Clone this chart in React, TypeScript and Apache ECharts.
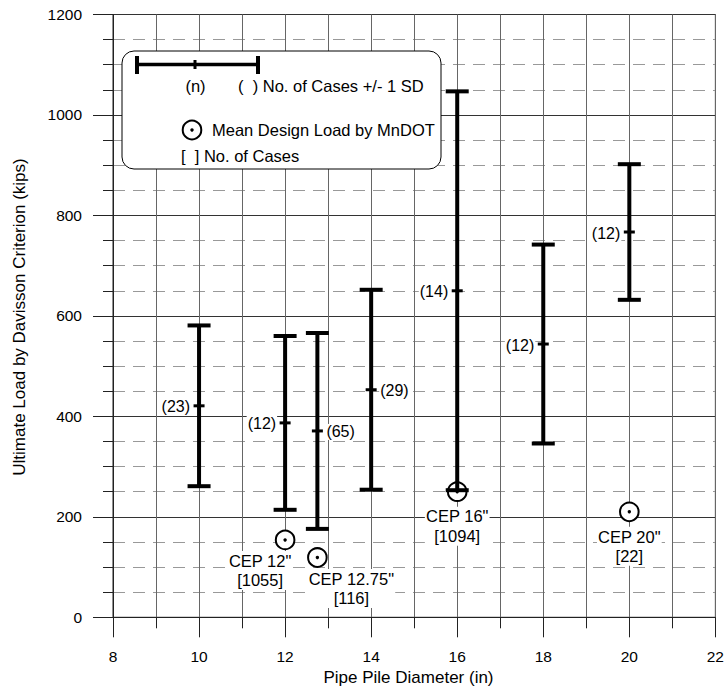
import { useEffect, useRef } from "react";
import * as echarts from "echarts";

// Pile load test summary: mean ultimate load (Davisson) with +/- 1 SD, by pipe diameter
const diameters = [10, 12, 12.75, 14, 16, 18, 20];
const meanLoads = [421, 387, 371, 453, 650, 544, 767];
const stdDevs = [160, 173, 195, 199, 397, 198, 135];
const caseCounts = [23, 12, 65, 29, 14, 12, 12];
const countLabelSide = ["left", "left", "right", "right", "left", "left", "left"];

// MnDOT mean design loads for closed-end pipe (CEP) piles
const cepNames = ['CEP 12"', 'CEP 12.75"', 'CEP 16"', 'CEP 20"'];
const cepDiameters = [12, 12.75, 16, 20];
const cepDesignLoads = [154, 119, 250, 210];
const cepCases = [1055, 116, 1094, 22];

const FONT = "'Liberation Sans', Arial, Helvetica, sans-serif";

// label placement for the design-load annotations (dx, dy from marker centre)
const cepLabelOffsets: [number, number][] = [
  [-25, 11],
  [34, 11.5],
  [0, 15],
  [0, 15],
];

const KEY_Z = 100;

function keyText(text: string, x: number, y: number, align: "left" | "center" = "left") {
  return {
    type: "text",
    x,
    y,
    z: KEY_Z + 2,
    style: { text, align, verticalAlign: "middle", fontSize: 16.5, fontFamily: FONT, fill: "#000" },
  };
}

function keyLine(x1: number, y1: number, x2: number, y2: number, w: number) {
  return {
    type: "line",
    z: KEY_Z + 1,
    shape: { x1, y1, x2, y2 },
    style: { stroke: "#000", lineWidth: w },
  };
}

export default function App() {
  const ref = useRef<HTMLDivElement>(null);

  useEffect(() => {
    if (!ref.current) return;
    const chart = echarts.init(ref.current, undefined, { renderer: "svg" });

    const errorData = diameters.map((d, i) => [d, meanLoads[i], stdDevs[i], caseCounts[i]]);
    const cepData = cepDiameters.map((d, i) => [d, cepDesignLoads[i], cepCases[i]]);

    const option: echarts.EChartsOption = {
      animation: false,
      backgroundColor: "#fff",
      grid: {
        left: 113,
        right: 11,
        top: 14.5,
        bottom: 69.7,
        show: true,
        borderColor: "#222",
        borderWidth: 1,
        backgroundColor: "transparent",
      },
      xAxis: {
        type: "value",
        min: 8,
        max: 22,
        interval: 2,
        axisLine: { show: true, lineStyle: { color: "#222", width: 1 } },
        axisTick: { show: true, length: 20, lineStyle: { color: "#222", width: 1 } },
        minorTick: { show: true, splitNumber: 2, length: 11, lineStyle: { color: "#222", width: 1 } },
        splitLine: { show: true, lineStyle: { color: "#666", width: 1 } },
        minorSplitLine: { show: true, lineStyle: { color: "#666", width: 1 } },
        axisLabel: { margin: 31, fontSize: 15.5, color: "#000", fontFamily: FONT },
      },
      yAxis: {
        type: "value",
        min: 0,
        max: 1200,
        interval: 200,
        axisLine: { show: true, lineStyle: { color: "#222", width: 1 } },
        axisTick: { show: true, length: 20, lineStyle: { color: "#222", width: 1 } },
        minorTick: { show: true, splitNumber: 4, length: 10, lineStyle: { color: "#222", width: 1 } },
        splitLine: { show: true, lineStyle: { color: "#333", width: 1 } },
        minorSplitLine: { show: true, lineStyle: { color: "#999", width: 1, type: [12, 8] } },
        axisLabel: {
          margin: 31,
          fontSize: 15.5,
          color: "#000",
          fontFamily: FONT,
          formatter: (v: number) => String(v),
        },
      },
      series: [
        {
          type: "custom",
          name: "design",
          z: 3,
          data: cepData,
          renderItem: (params: any, api: any) => {
            const i = params.dataIndex;
            const c = api.coord([api.value(0), api.value(1)]);
            const [dx, dy] = cepLabelOffsets[i];
            return {
              type: "group",
              children: [
                {
                  type: "text",
                  x: c[0] + dx,
                  y: c[1] + dy,
                  style: {
                    text: `${cepNames[i]}\n[${api.value(2)}]`,
                    align: "center",
                    verticalAlign: "top",
                    fontSize: 16.5,
                    lineHeight: 19.5,
                    fontFamily: FONT,
                    fill: "#000",
                    backgroundColor: "#fff",
                    padding: [0, 1],
                  },
                },
                {
                  type: "circle",
                  shape: { cx: c[0], cy: c[1], r: 9.3 },
                  style: { fill: "#fff", stroke: "#000", lineWidth: 2 },
                },
                {
                  type: "circle",
                  shape: { cx: c[0], cy: c[1], r: 1.7 },
                  style: { fill: "#000" },
                },
              ],
            };
          },
        },
        {
          type: "custom",
          name: "measured",
          z: 4,
          data: errorData,
          renderItem: (params: any, api: any) => {
            const i = params.dataIndex;
            const x = api.value(0);
            const m = api.value(1);
            const sd = api.value(2);
            const top = api.coord([x, m + sd]);
            const bot = api.coord([x, m - sd]);
            const mid = api.coord([x, m]);
            const cx = mid[0];
            const left = countLabelSide[i] === "left";
            const line = (x1: number, y1: number, x2: number, y2: number, w: number) => ({
              type: "line",
              shape: { x1, y1, x2, y2 },
              style: { stroke: "#000", lineWidth: w },
            });
            return {
              type: "group",
              children: [
                line(cx, top[1], cx, bot[1], 4),
                line(cx - 11.5, top[1], cx + 11.5, top[1], 4),
                line(cx - 11.5, bot[1], cx + 11.5, bot[1], 4),
                line(cx - 5.5, mid[1], cx + 5.5, mid[1], 3),
                {
                  type: "text",
                  x: left ? cx - 8 : cx + 8,
                  y: mid[1] + 1,
                  style: {
                    text: `(${api.value(3)})`,
                    align: left ? "right" : "left",
                    verticalAlign: "middle",
                    fontSize: 16,
                    fontFamily: FONT,
                    fill: "#000",
                    backgroundColor: "#fff",
                    padding: [0, 1],
                  },
                },
              ],
            };
          },
        },
      ],
      graphic: [
        // axis titles
        {
          type: "text",
          x: 408.5,
          y: 677,
          z: 50,
          style: {
            text: "Pipe Pile Diameter (in)",
            align: "center",
            verticalAlign: "middle",
            fontSize: 17,
            fontFamily: FONT,
            fill: "#000",
          },
        },
        {
          type: "text",
          x: 19,
          y: 317,
          rotation: Math.PI / 2,
          z: 50,
          style: {
            text: "Ultimate Load by Davisson Criterion (kips)",
            align: "center",
            verticalAlign: "middle",
            fontSize: 17,
            fontFamily: FONT,
            fill: "#000",
          },
        },
        // key box
        {
          type: "rect",
          z: KEY_Z,
          shape: { x: 122, y: 51, width: 319, height: 118, r: 12 },
          style: { fill: "#fff", stroke: "#000", lineWidth: 1 },
        },
        keyLine(137, 64.5, 258, 64.5, 3.5),
        keyLine(137, 56, 137, 74, 4),
        keyLine(258, 56, 258, 74, 4),
        keyLine(195, 60, 195, 69, 3),
        keyText("(n)", 195.5, 86, "center"),
        keyText("(  ) No. of Cases +/- 1 SD", 238, 86),
        {
          type: "circle",
          z: KEY_Z + 1,
          shape: { cx: 192, cy: 130, r: 9.3 },
          style: { fill: "#fff", stroke: "#000", lineWidth: 2 },
        },
        {
          type: "circle",
          z: KEY_Z + 2,
          shape: { cx: 192, cy: 130, r: 1.7 },
          style: { fill: "#000" },
        },
        keyText("Mean Design Load by MnDOT", 212, 130),
        keyText("[  ] No. of Cases", 181, 156),
      ] as any,
    };

    chart.setOption(option);
    return () => chart.dispose();
  }, []);

  return (
    <div
      ref={ref}
      style={{ position: "fixed", left: 0, top: 0, width: 727, height: 687, background: "#fff" }}
    />
  );
}
